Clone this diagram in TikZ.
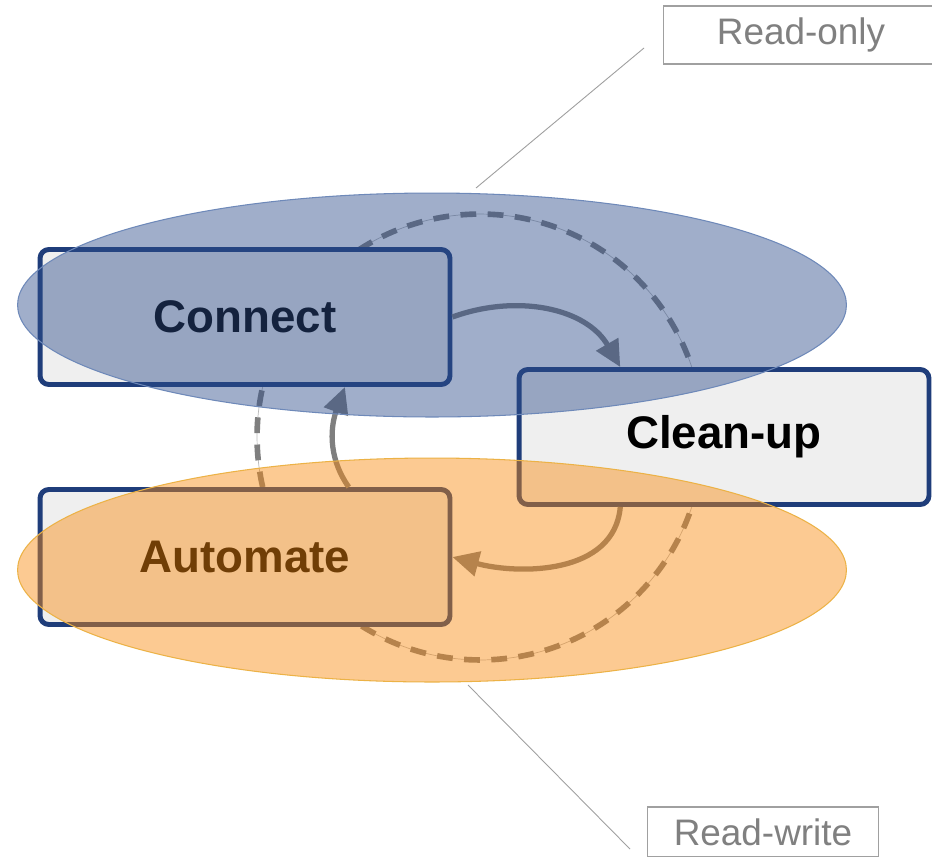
\documentclass[tikz,border=0pt]{standalone}
\usepackage{fontspec}
\setmainfont{Liberation Sans}
\usepackage{xcolor}
\usetikzlibrary{arrows.meta,shapes.geometric}

\definecolor{stageline}{RGB}{31,61,122}
\definecolor{stagefill}{RGB}{239,239,239}
\definecolor{flowgray}{RGB}{127,127,127}
\definecolor{readblue}{RGB}{45,77,139}
\definecolor{readedge}{RGB}{110,137,185}
\definecolor{writeorange}{RGB}{249,138,15}
\definecolor{writeedge}{RGB}{236,178,70}
\definecolor{tagtext}{RGB}{128,128,128}
\definecolor{tagline}{RGB}{160,160,160}

\begin{document}
\begin{tikzpicture}[x=0.02cm,y=-0.02cm]
\tikzset{stage/.style={draw=stageline,fill=stagefill,line width=2.8pt,rounded corners=5pt,minimum width=8.2cm,minimum height=2.7cm,font=\fontsize{26}{30}\selectfont\bfseries}}
\tikzset{flow/.style={draw=flowgray,line width=3pt,-{Triangle[length=15pt,width=14pt]}}}
\tikzset{cycle/.style={draw=flowgray,line width=3.2pt,dash pattern=on 9pt off 6.5pt}}
\tikzset{zone/.style={ellipse,minimum width=16.58cm,minimum height=4.48cm,inner sep=0pt,line width=0.6pt}}
\tikzset{tag/.style={draw=tagline,line width=0.6pt,text=tagtext,font=\fontsize{21}{25}\selectfont}}
\tikzset{callout/.style={draw=tagline,line width=0.5pt}}

\clip (0,0) rectangle (932,856);
\fill[white] (0,0) rectangle (932,856);

\coordinate (hub) at (480,437);
\draw[flowgray!55,line width=0.4pt] (hub) circle[radius=4.46cm];
\draw[cycle] (hub) circle[radius=4.46cm];

\node[stage] (connect) at (245,317) {Connect};
\node[stage] (cleanup) at (724,437) {Clean-up};
\node[stage] (automate) at (245,557) {Automate};

\draw[flow] (connect.east) to[out=20,in=120] (cleanup.146);
\draw[flow] (cleanup.214) to[out=265,in=345] (automate.east);
\draw[flow] (automate.34) to[out=125,in=250] (connect.325);

\node[zone,fill=readblue,fill opacity=.45,draw=readedge] (readonly) at (432,305) {};
\node[zone,fill=writeorange,fill opacity=.45,draw=writeedge] (readwrite) at (432,570) {};

\node[tag,minimum width=5.52cm,minimum height=1.16cm] (rolabel) at (801,35) {Read-only};
\node[tag,minimum width=4.62cm,minimum height=1.0cm] (rwlabel) at (763,832) {Read-write};

\coordinate (ro-a) at (644,48);
\coordinate (ro-b) at (476,188);
\coordinate (rw-a) at (468,685);
\coordinate (rw-b) at (630,849);
\draw[callout] (ro-a) -- (ro-b);
\draw[callout] (rw-a) -- (rw-b);
\end{tikzpicture}
\end{document}
